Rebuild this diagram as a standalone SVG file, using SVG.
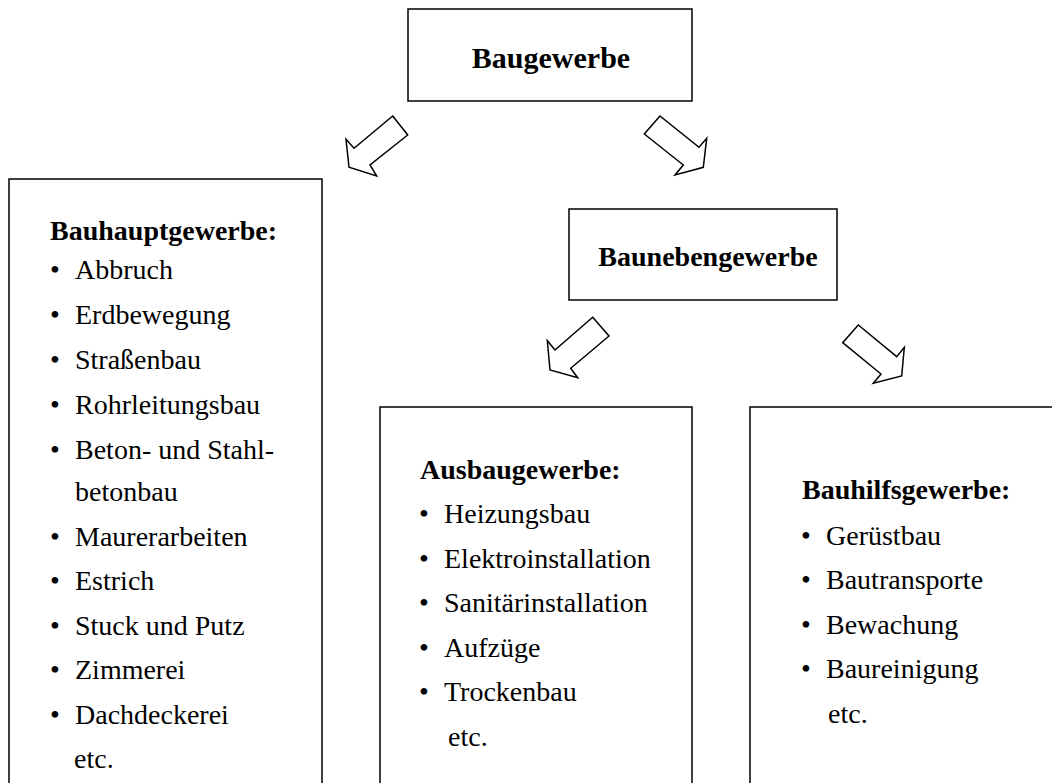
<svg xmlns="http://www.w3.org/2000/svg" width="1052" height="783" viewBox="0 0 1052 783">
<style>
.box{fill:#fff;stroke:#000;stroke-width:1.5}
.arr{fill:#fff;stroke:#000;stroke-width:1.5;stroke-linejoin:miter}
text{font-family:"Liberation Serif","Times New Roman",serif;font-size:28px;fill:#000}
.b{font-weight:bold}
.bul{text-anchor:middle}
.c{text-anchor:middle}
</style>
<rect width="1052" height="783" fill="#fff"/>
<g id="connectors">
<polygon class="arr" points="392.7,116 407.7,135 370,165 376.7,176 349,167.3 346,139.3 354,148.3"/>
<polygon class="arr" points="660,116 644.3,134 683.3,165 675,175 703.3,167.3 706.7,138.3 699,147.3"/>
<polygon class="arr" points="592.7,317.3 609,336 570.7,368.3 577.7,377.7 550,370 547.3,340.7 555,350"/>
<polygon class="arr" points="858.3,325 842.7,342.7 881,374 873.3,383.3 901.7,376 904.3,347.3 896.7,356.7"/>
</g>
<g id="baugewerbe">
<rect class="box" x="408" y="9" width="284" height="92"/>
<text class="b c" x="551" y="68" style="font-size:30px">Baugewerbe</text>
</g>
<g id="bauhauptgewerbe">
<rect class="box" x="9" y="179" width="313" height="620"/>
<text class="b" x="50" y="240">Bauhauptgewerbe:</text>
<text class="bul" x="55" y="279">•</text><text x="75" y="279">Abbruch</text>
<text class="bul" x="55" y="324">•</text><text x="75" y="324">Erdbewegung</text>
<text class="bul" x="55" y="369">•</text><text x="75" y="369">Straßenbau</text>
<text class="bul" x="55" y="414">•</text><text x="75" y="414">Rohrleitungsbau</text>
<text class="bul" x="55" y="459">•</text><text x="75" y="459">Beton- und Stahl-</text>
<text x="75" y="501">betonbau</text>
<text class="bul" x="55" y="546">•</text><text x="75" y="546">Maurerarbeiten</text>
<text class="bul" x="55" y="590">•</text><text x="75" y="590">Estrich</text>
<text class="bul" x="55" y="634.5">•</text><text x="75" y="634.5">Stuck und Putz</text>
<text class="bul" x="55" y="679">•</text><text x="75" y="679">Zimmerei</text>
<text class="bul" x="55" y="723.5">•</text><text x="75" y="723.5">Dachdeckerei</text>
<text x="74" y="768">etc.</text>
</g>
<g id="baunebengewerbe">
<rect class="box" x="569" y="209" width="268" height="91"/>
<text class="b c" x="708" y="266">Baunebengewerbe</text>
</g>
<g id="ausbaugewerbe">
<rect class="box" x="380" y="407" width="312" height="400"/>
<text class="b" x="420" y="479">Ausbaugewerbe:</text>
<text class="bul" x="424" y="523">•</text><text x="444" y="523">Heizungsbau</text>
<text class="bul" x="424" y="567.5">•</text><text x="444" y="567.5">Elektroinstallation</text>
<text class="bul" x="424" y="612">•</text><text x="444" y="612">Sanitärinstallation</text>
<text class="bul" x="424" y="656.5">•</text><text x="444" y="656.5">Aufzüge</text>
<text class="bul" x="424" y="701">•</text><text x="444" y="701">Trockenbau</text>
<text x="448" y="746">etc.</text>
</g>
<g id="bauhilfsgewerbe">
<rect class="box" x="750" y="407" width="320" height="400"/>
<text class="b" x="802" y="499">Bauhilfsgewerbe:</text>
<text class="bul" x="806" y="545">•</text><text x="826" y="545">Gerüstbau</text>
<text class="bul" x="806" y="589">•</text><text x="826" y="589">Bautransporte</text>
<text class="bul" x="806" y="634">•</text><text x="826" y="634">Bewachung</text>
<text class="bul" x="806" y="678">•</text><text x="826" y="678">Baureinigung</text>
<text x="828" y="723">etc.</text>
</g>
</svg>
